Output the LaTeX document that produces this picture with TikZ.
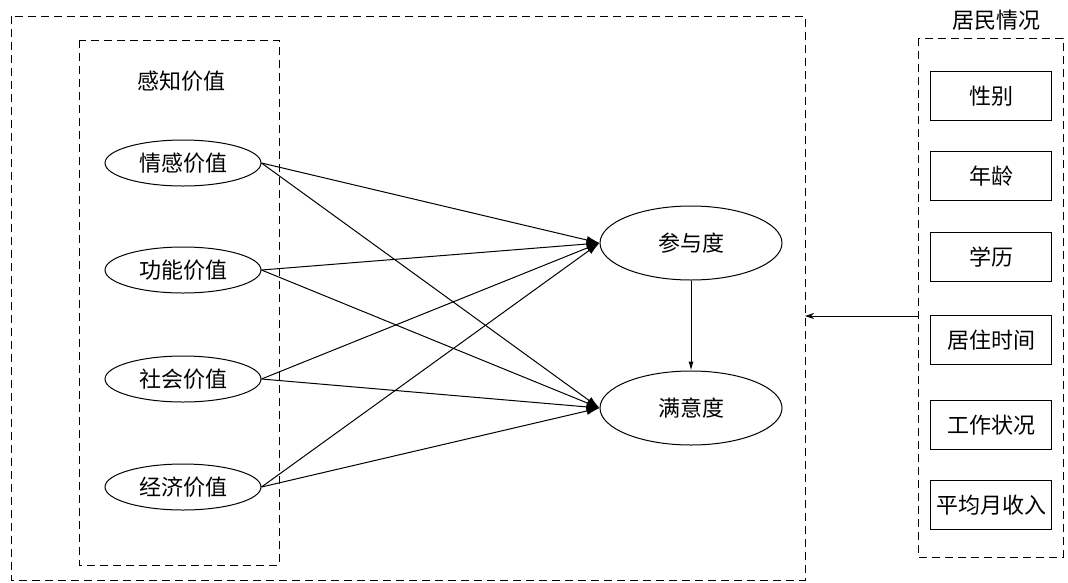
\documentclass[tikz,border=0pt]{standalone}
\usepackage{fontspec}
\setmainfont{Noto Sans CJK SC}
\usetikzlibrary{arrows.meta,positioning,shapes.geometric}

\begin{document}
\begin{tikzpicture}[x=1pt,y=-1pt,font=\fontsize{22}{24}\selectfont,
  dbox/.style={draw,dash pattern=on 8pt off 5pt,line width=1pt},
  val/.style={draw,ellipse,line width=1pt,minimum width=156pt,minimum height=46pt,inner sep=0pt},
  res/.style={draw,ellipse,line width=1pt,minimum width=182pt,minimum height=74pt,inner sep=0pt},
  item/.style={draw,line width=1pt,minimum width=121pt,minimum height=49pt,inner sep=0pt},
  arr/.style={-{Latex[length=13pt,width=8pt]},line width=1pt}]
\useasboundingbox (0,0) rectangle (1068,582);
% frames
\draw[dbox] (11,16) rectangle (805,580);
\draw[dbox] (79,40) rectangle (279,565);
\draw[dbox] (918,38) rectangle (1063,557);
\node (pv) at (181,81) {感知价值};
\node (rs) at (996,20) {居民情况};
% perceived value
\node[val] (emo) at (183,163) {情感价值};
\node[val] (fun) at (183,270) {功能价值};
\node[val] (soc) at (183,379) {社会价值};
\node[val] (eco) at (183,487) {经济价值};
% outcomes
\node[res] (par) at (691,243) {参与度};
\node[res] (sat) at (691,408) {满意度};
% residents
\node[item] (sex) at (991,96) {性别};
\node[item] (age) at (991,176) {年龄};
\node[item] (edu) at (991,257) {学历};
\node[item] (liv) at (991,340) {居住时间};
\node[item] (job) at (991,425) {工作状况};
\node[item] (inc) at (991,505) {平均月收入};
\coordinate (rin) at (918,316);
\coordinate (rout) at (805,316);
% paths
\foreach \v in {emo,fun,soc,eco}{
  \draw[arr] (\v.east) -- (par.west);
  \draw[arr] (\v.east) -- (sat.west);
}
\draw[-{Latex[length=9pt,width=5pt]},line width=1pt] (par) -- (sat);
\draw[-{Stealth[length=9pt,width=6pt]},line width=1pt] (rin) -- (rout);
\end{tikzpicture}
\end{document}
